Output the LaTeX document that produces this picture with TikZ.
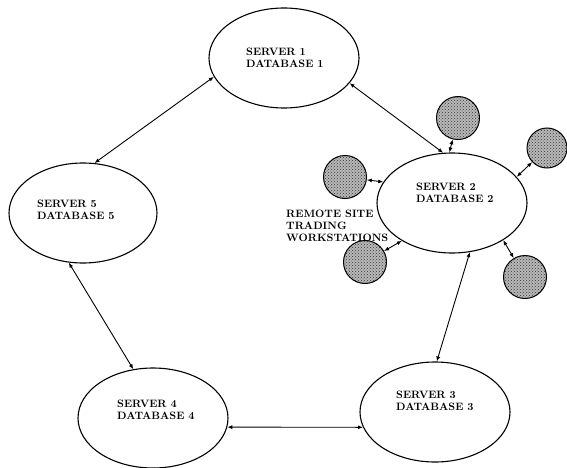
\documentclass[tikz,border=0pt]{standalone}
\usepackage{tikz}
\usetikzlibrary{arrows.meta, positioning, shapes.geometric, patterns}

\begin{document}
\begin{tikzpicture}[x=1pt, y=-1pt,
    server/.style={draw, ellipse, line width=1.1pt, minimum width=150pt, minimum height=100pt, inner sep=0pt},
    dbtext/.style={anchor=west, align=left, font=\fontsize{10.7}{12}\selectfont\bfseries, inner sep=0pt},
    station/.style={draw, circle, line width=1pt, minimum size=43pt, inner sep=0pt,
        preaction={fill=gray!55}, pattern=crosshatch dots, pattern color=gray!40!black},
    link/.style={{Latex[length=5pt, width=4pt]}-{Latex[length=5pt, width=4pt]}, line width=0.9pt}]
    \useasboundingbox (0,0) rectangle (567,468);

    % servers
    \node[server] (s1) at (284, 58) {};
    \node[server] (s2) at (452, 203) {};
    \node[server] (s3) at (435, 412) {};
    \node[server] (s4) at (153, 418) {};
    \node[server, minimum width=148pt] (s5) at (83, 213) {};

    \node[dbtext] (t1) at (246, 58) {SERVER 1\\DATABASE 1};
    \node[dbtext] (t2) at (416, 193) {SERVER 2\\DATABASE 2};
    \node[dbtext] (t3) at (396, 401) {SERVER 3\\DATABASE 3};
    \node[dbtext] (t4) at (117, 410) {SERVER 4\\DATABASE 4};
    \node[dbtext] (t5) at (37, 210) {SERVER 5\\DATABASE 5};

    % remote workstations
    \node[station] (w1) at (458, 118) {};
    \node[station, minimum size=40pt] (w2) at (547, 148) {};
    \node[station] (w3) at (345, 177) {};
    \node[station] (w4) at (365, 262) {};
    \node[station] (w5) at (525, 277) {};
    \node[dbtext] (rs) at (286, 226) {REMOTE SITE\\TRADING\\WORKSTATIONS};

    \draw[link] (s1.-21) -- (s2.100);
    \draw[link] (s1.195) -- (s5.77);
    \draw[link] (s5.254) -- (s4.112);
    \draw[link] (s4.-7) -- (s3.192);
    \draw[link] (s3.88) -- (s2.-70);

    \draw[link] (w1) -- (s2.93);
    \draw[link] (w2) -- (s2.22);
    \draw[link] (w3) -- (s2.163);
    \draw[link] (w4) -- (s2.217);
    \draw[link] (w5) -- (s2.-36);
\end{tikzpicture}
\end{document}
